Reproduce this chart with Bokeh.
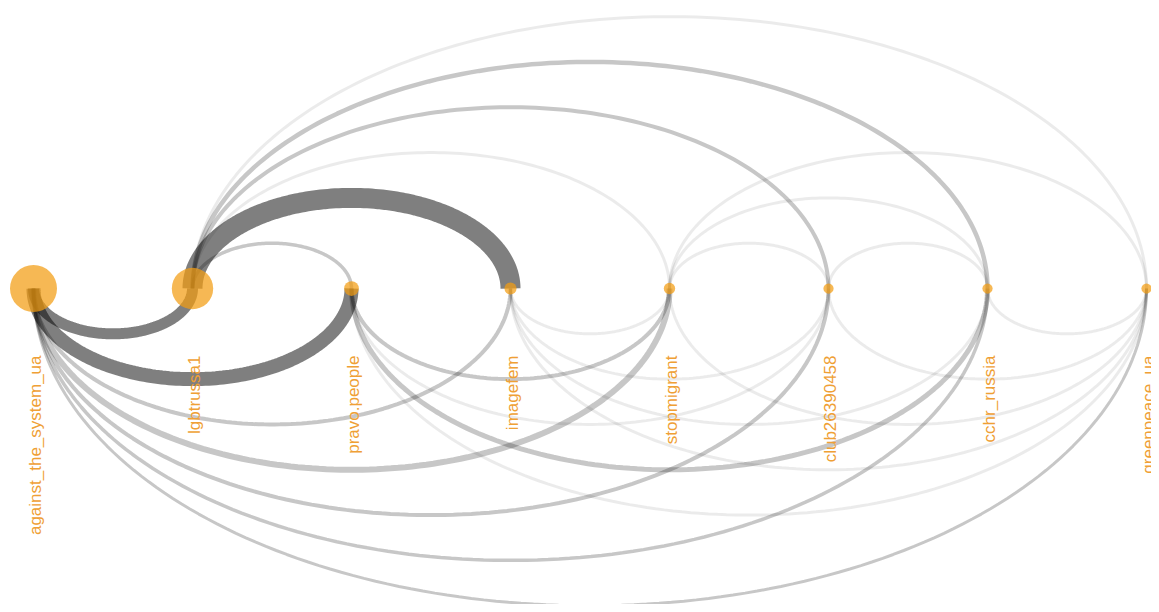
import numpy as np
from bokeh.plotting import figure
from bokeh.models import Range1d, ColumnDataSource
from bokeh.embed import file_html
from bokeh.resources import INLINE
from bokeh.core.properties import value

# ---------------- data ----------------
nodes = ["against_the_system_ua", "lgbtrussa1", "pravo.people", "imagefem",
         "stopmigrant", "club26390458", "cchr_russia", "greenpeace_ua"]
node_value = [100, 85, 14, 7, 5, 2, 2, 2]

edge_source = ["against_the_system_ua", "against_the_system_ua", "against_the_system_ua",
               "against_the_system_ua", "against_the_system_ua", "against_the_system_ua",
               "against_the_system_ua",
               "pravo.people", "pravo.people", "pravo.people", "pravo.people",
               "imagefem", "imagefem", "imagefem", "imagefem",
               "stopmigrant", "club26390458", "cchr_russia",
               "lgbtrussa1", "lgbtrussa1", "lgbtrussa1", "lgbtrussa1", "lgbtrussa1", "lgbtrussa1",
               "stopmigrant", "stopmigrant", "stopmigrant", "club26390458"]
edge_target = ["lgbtrussa1", "pravo.people", "imagefem", "stopmigrant", "club26390458",
               "cchr_russia", "greenpeace_ua",
               "stopmigrant", "cchr_russia", "club26390458", "greenpeace_ua",
               "stopmigrant", "club26390458", "cchr_russia", "greenpeace_ua",
               "greenpeace_ua", "greenpeace_ua", "greenpeace_ua",
               "pravo.people", "imagefem", "stopmigrant", "club26390458", "cchr_russia", "greenpeace_ua",
               "club26390458", "cchr_russia", "greenpeace_ua", "cchr_russia"]
edge_weight = [22, 28, 8, 12, 8, 7, 6,
               8, 10, 2, 2,
               2, 2, 2, 2,
               2, 2, 2,
               7, 40, 2, 8, 9, 2,
               2, 2, 2, 2]
edge_side = ["below"] * 18 + ["above"] * 10

# ---------------- layout helpers ----------------
PX = 159.0          # pixels per node step
RATIO = 0.57        # arc height / half span
pos = {n: i for i, n in enumerate(nodes)}

order = np.argsort(edge_weight, kind="stable")
xs, ys, widths, alphas = [], [], [], []
theta = np.linspace(np.pi, 0, 140)
for k in order:
    a, b = pos[edge_source[k]], pos[edge_target[k]]
    lo, hi = min(a, b), max(a, b)
    c = (lo + hi) / 2.0
    hw = (hi - lo) / 2.0
    sgn = 1.0 if edge_side[k] == "above" else -1.0
    xs.append(list(c + hw * np.cos(theta)))
    ys.append(list(sgn * RATIO * hw * np.sin(theta)))
    w = edge_weight[k]
    widths.append(max(3.0, w / 2.0))
    alphas.append(0.5 if w >= 20 else (0.22 if w >= 6 else 0.08))

edges_src = ColumnDataSource(dict(xs=xs, ys=ys, lw=widths, la=alphas))

W, H = 1151, 604
x0 = -33 / PX
x1 = x0 + W / PX
ytop = 288 / PX
ybot = ytop - H / PX

p = figure(width=W, height=H, output_backend="svg", toolbar_location=None,
           x_range=Range1d(x0, x1), y_range=Range1d(ybot, ytop), min_border=0)
p.axis.visible = False
p.grid.visible = False
p.outline_line_color = None
p.background_fill_color = "white"
p.border_fill_color = "white"

p.multi_line(xs="xs", ys="ys", line_width="lw", line_alpha="la",
             line_color="black", line_cap="butt", source=edges_src)

node_src = ColumnDataSource(dict(
    x=[pos[n] for n in nodes],
    y=[0.0] * len(nodes),
    size=[9.5 + 0.375 * v for v in node_value],
    name=nodes,
    ly=[-67.0 / PX] * len(nodes),
))
p.scatter(x="x", y="y", size="size", source=node_src, fill_color="#F39C12",
          fill_alpha=0.72, line_color=None)

p.text(x="x", y="ly", text="name", source=node_src, angle=np.pi / 2,
       text_align="right", text_baseline="middle", x_offset=2,
       text_font=value("Liberation Sans"), text_font_size="17px",
       text_color="#EFA035")

open("out.html", "w").write(file_html(p, INLINE))
